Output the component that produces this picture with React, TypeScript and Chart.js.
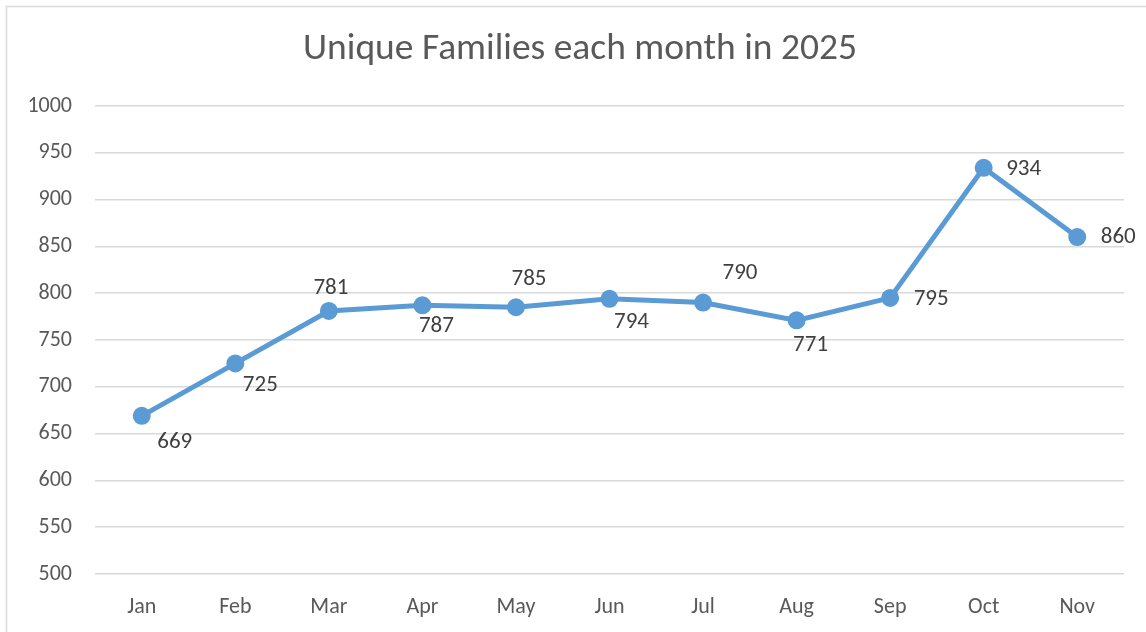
import React, { useEffect, useRef } from "react";
import { Chart, registerables } from "chart.js";

Chart.register(...registerables);

const months = ["Jan", "Feb", "Mar", "Apr", "May", "Jun", "Jul", "Aug", "Sep", "Oct", "Nov"];
const families = [669, 725, 781, 787, 785, 794, 790, 771, 795, 934, 860];
const yTicks = [500, 550, 600, 650, 700, 750, 800, 850, 900, 950, 1000];
const titleText = "Unique Families each month in 2025";

// label placement offsets (style only)
const labelOffsets: [number, number][] = [
  [33, 26], [25, 22], [2, -23], [14, 21], [13, -28], [22, 23],
  [37, -29], [14, 25], [41, 1], [40, 1], [41, 0],
];

const FONT = "Carlito, Calibri, 'Open Sans', 'Noto Sans', sans-serif";

const frameAndLabels = {
  id: "frameAndLabels",
  beforeDraw(chart: any) {
    const ctx = chart.ctx;
    ctx.save();
    ctx.fillStyle = "#ffffff";
    ctx.fillRect(0, 0, chart.width, chart.height);
    ctx.strokeStyle = "#d9d9d9";
    ctx.lineWidth = 1.5;
    ctx.strokeRect(6.5, 6.5, chart.width + 50, chart.height + 50);
    ctx.font = `37.5px ${FONT}`;
    ctx.fillStyle = "#595959";
    ctx.textAlign = "center";
    ctx.textBaseline = "middle";
    ctx.fillText(titleText, 580, 50);
    ctx.restore();
  },
  afterDatasetsDraw(chart: any) {
    const ctx = chart.ctx;
    const meta = chart.getDatasetMeta(0);
    ctx.save();
    ctx.font = `23px ${FONT}`;
    ctx.fillStyle = "#404040";
    ctx.textAlign = "center";
    ctx.textBaseline = "middle";
    meta.data.forEach((pt: any, i: number) => {
      const [dx, dy] = labelOffsets[i] || [0, -20];
      ctx.fillText(String(families[i]), pt.x + dx, pt.y + dy);
    });
    ctx.restore();
  },
};

export default function App() {
  const ref = useRef<HTMLCanvasElement>(null);
  useEffect(() => {
    document.body.style.margin = "0";
    const chart = new Chart(ref.current!, {
      type: "line",
      data: {
        labels: months,
        datasets: [
          {
            data: families,
            borderColor: "#5B9BD5",
            backgroundColor: "#5B9BD5",
            borderWidth: 5,
            pointRadius: 6.5,
            pointHoverRadius: 6.5,
            pointBackgroundColor: "#5B9BD5",
            pointBorderColor: "#5B9BD5",
            tension: 0,
          },
        ],
      },
      options: {
        animation: false,
        responsive: false,
        maintainAspectRatio: false,
        layout: { padding: { left: 0, right: 22, top: 106, bottom: 0 } },
        plugins: {
          legend: { display: false },
          tooltip: { enabled: false },
          title: { display: false },
        },
        scales: {
          x: {
            offset: true,
            grid: { display: false, drawTicks: false },
            border: { display: false },
            ticks: { color: "#595959", font: { family: FONT, size: 22 }, padding: 20 },
            afterFit: (s: any) => { s.height = 58; },
          },
          y: {
            min: 500,
            max: 1000,
            afterBuildTicks: (s: any) => { s.ticks = yTicks.map((v) => ({ value: v })); },
            grid: { color: "#d9d9d9", lineWidth: 1.5, drawTicks: false },
            border: { display: false },
            ticks: {
              color: "#595959",
              font: { family: FONT, size: 22 },
              padding: 23,
              callback: (v: any) => String(v),
            },
            afterFit: (s: any) => { s.width = 95; },
          },
        },
      },
      plugins: [frameAndLabels],
    });
    return () => chart.destroy();
  }, []);
  return (
    <div style={{ position: "fixed", left: 0, top: 0, width: 1146, height: 632, background: "#fff" }}>
      <canvas ref={ref} width={1146} height={632} style={{ display: "block" }} />
    </div>
  );
}
